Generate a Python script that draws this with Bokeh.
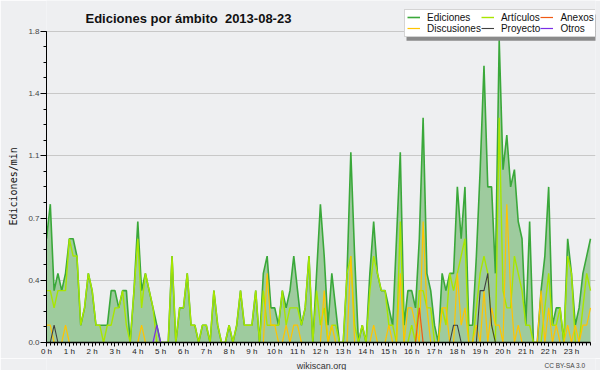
import math
from bokeh.plotting import figure
from bokeh.layouts import column
from bokeh.models import (Range1d, FixedTicker, CustomJSTickFormatter, Label, Legend,
                          LegendItem, Title, BoxAnnotation)
from bokeh.embed import file_html
from bokeh.resources import INLINE

# ---------------- data (10-minute slots, edits per minute) ----------------
title_text = "Ediciones por ámbito \u00a02013-08-23"
y_title = "Ediciones/min"
site_text = "wikiscan.org"
licence_text = "CC BY-SA 3.0"
hours = list(range(24))
slots_per_hour = 6

ediciones = [
    0.6, 0.8, 0.3, 0.4, 0.3, 0.4, 0.6, 0.6, 0.5, 0.1, 0.2, 0.4,   # 0h-1h50
    0.3, 0.1, 0.1, 0.1, 0.1, 0.3, 0.3, 0.2, 0.3, 0.3, 0.0, 0.3,   # 2h-3h50
    0.7, 0.3, 0.4, 0.3, 0.2, 0.1, 0.0, 0.0, 0.0, 0.5, 0.0, 0.2,   # 4h-5h50
    0.2, 0.4, 0.1, 0.1, 0.0, 0.1, 0.1, 0.0, 0.3, 0.1, 0.0, 0.0,   # 6h-7h50
    0.1, 0.0, 0.1, 0.3, 0.1, 0.1, 0.1, 0.3, 0.0, 0.4, 0.5, 0.2,   # 8h-9h50
    0.2, 0.1, 0.3, 0.2, 0.3, 0.5, 0.3, 0.1, 0.2, 0.5, 0.0, 0.4,   # 10h-11h50
    0.8, 0.5, 0.1, 0.4, 0.2, 0.0, 0.0, 0.4, 1.1, 0.5, 0.0, 0.1,   # 12h-13h50
    0.0, 0.4, 0.7, 0.4, 0.3, 0.3, 0.2, 0.1, 0.6, 1.1, 0.1, 0.3,   # 14h-15h50
    0.3, 0.2, 0.6, 1.3, 0.4, 0.3, 0.1, 0.0, 0.4, 0.3, 0.4, 0.4,   # 16h-17h50
    0.9, 0.6, 0.9, 0.1, 0.1, 0.5, 1.0, 1.6, 0.9, 0.9, 0.4, 1.75,  # 18h-19h50
    1.0, 1.2, 0.9, 1.0, 0.7, 0.6, 0.1, 0.7, 0.0, 0.0, 0.3, 0.5,   # 20h-21h50
    0.9, 0.1, 0.2, 0.2, 0.0, 0.6, 0.4, 0.1, 0.2, 0.4, 0.5, 0.6,   # 22h-23h50
]
articulos = [
    0.3, 0.3, 0.2, 0.3, 0.3, 0.3, 0.6, 0.5, 0.5, 0.1, 0.2, 0.4,
    0.3, 0.1, 0.1, 0.0, 0.1, 0.1, 0.2, 0.2, 0.3, 0.1, 0.0, 0.3,
    0.6, 0.2, 0.4, 0.3, 0.2, 0.0, 0.0, 0.0, 0.0, 0.5, 0.0, 0.2,
    0.2, 0.4, 0.1, 0.1, 0.0, 0.1, 0.1, 0.0, 0.3, 0.1, 0.0, 0.0,
    0.1, 0.0, 0.1, 0.3, 0.1, 0.1, 0.1, 0.3, 0.0, 0.3, 0.1, 0.1,
    0.1, 0.1, 0.3, 0.1, 0.2, 0.2, 0.2, 0.1, 0.2, 0.5, 0.0, 0.3,
    0.1, 0.2, 0.0, 0.1, 0.1, 0.0, 0.0, 0.4, 0.5, 0.1, 0.0, 0.1,
    0.0, 0.3, 0.5, 0.4, 0.3, 0.3, 0.1, 0.1, 0.0, 0.7, 0.0, 0.0,
    0.1, 0.0, 0.3, 0.3, 0.2, 0.2, 0.0, 0.0, 0.2, 0.1, 0.4, 0.3,
    0.4, 0.5, 0.6, 0.0, 0.0, 0.2, 0.4, 0.5, 0.4, 0.1, 0.0, 1.3,
    0.3, 0.2, 0.2, 0.5, 0.4, 0.3, 0.1, 0.1, 0.0, 0.0, 0.0, 0.2,
    0.4, 0.1, 0.1, 0.2, 0.0, 0.5, 0.4, 0.0, 0.0, 0.2, 0.4, 0.3,
]
discusiones = [
    0.1, 0.1, 0.0, 0.0, 0.0, 0.1, 0.0, 0.0, 0.0, 0.0, 0.0, 0.0,
    0.0, 0.0, 0.0, 0.0, 0.0, 0.0, 0.0, 0.0, 0.0, 0.0, 0.0, 0.0,
    0.0, 0.1, 0.0, 0.0, 0.0, 0.0, 0.0, 0.0, 0.0, 0.0, 0.0, 0.0,
    0.0, 0.0, 0.0, 0.0, 0.0, 0.0, 0.0, 0.0, 0.0, 0.0, 0.0, 0.0,
    0.0, 0.0, 0.0, 0.0, 0.0, 0.0, 0.0, 0.0, 0.0, 0.0, 0.4, 0.1,
    0.1, 0.0, 0.0, 0.1, 0.0, 0.1, 0.1, 0.0, 0.0, 0.0, 0.0, 0.0,
    0.0, 0.3, 0.0, 0.1, 0.0, 0.0, 0.0, 0.0, 0.5, 0.0, 0.0, 0.0,
    0.0, 0.0, 0.1, 0.0, 0.0, 0.0, 0.1, 0.0, 0.0, 0.4, 0.0, 0.2,
    0.2, 0.1, 0.0, 0.7, 0.2, 0.0, 0.0, 0.0, 0.2, 0.2, 0.0, 0.0,
    0.4, 0.1, 0.2, 0.0, 0.0, 0.1, 0.0, 0.3, 0.0, 0.2, 0.1, 0.1,
    0.0, 0.8, 0.3, 0.0, 0.1, 0.0, 0.0, 0.0, 0.0, 0.0, 0.3, 0.0,
    0.2, 0.0, 0.1, 0.0, 0.0, 0.1, 0.0, 0.1, 0.0, 0.1, 0.1, 0.2,
]
proyecto = [0.0] * 144
proyecto[2] = 0.1
proyecto[107] = 0.1
proyecto[108] = 0.1
proyecto[114] = 0.3
proyecto[115] = 0.3
proyecto[116] = 0.4
proyecto[117] = 0.1
anexos = [0.0] * 144
anexos[98] = 0.2
otros = [0.0] * 144
otros[29] = 0.1

times = [i / slots_per_hour for i in range(len(ediciones))]

# ---------------- layout constants (page pixels) ----------------
FONT = "Liberation Sans"
BG = "#eeeff1"
W = 600
H_MAIN, H_STRIP = 358, 12
F_LEFT, F_RIGHT_DATA, F_RIGHT = 46, 590, 595   # frame left, x of last slot, frame right
F_TOP_DATA, F_BOTTOM = 31, 344                 # y of axis max, frame bottom
x_end = (len(ediciones) - 1) / slots_per_hour
y_max = 1.8
px_per_x = (F_RIGHT_DATA - F_LEFT) / x_end
px_per_y = (F_BOTTOM - F_TOP_DATA) / y_max

def dx(px):
    return (px - F_LEFT) / px_per_x

def dy(py):
    return (F_BOTTOM - py) / px_per_y

p = figure(width=W, height=H_MAIN, output_backend="svg", toolbar_location=None,
           x_range=Range1d(0, dx(F_RIGHT)), y_range=Range1d(0, dy(0)),
           min_border_left=F_LEFT, min_border_right=W - F_RIGHT,
           min_border_top=0, min_border_bottom=H_MAIN - F_BOTTOM,
           background_fill_color=BG, border_fill_color=BG)
p.outline_line_color = None

r_fill = p.varea(x=times, y1=0, y2=ediciones, fill_color="#9ecb9e", fill_alpha=1.0)
r_ed = p.line(times, ediciones, line_color="#3aa83a", line_width=1.6)
r_art = p.line(times, articulos, line_color="#a8e600", line_width=1.4)
r_dis = p.line(times, discusiones, line_color="#ffc400", line_width=1.2)
r_pro = p.line(times, proyecto, line_color="#404040", line_width=1.1)
r_anx = p.line(times, anexos, line_color="#f05a14", line_width=1.2)
r_otr = p.line(times, otros, line_color="#7a2ee6", line_width=1.2)

# ---------------- axes ----------------
xa = p.xaxis[0]
xa.bounds = (0, x_end)
xa.ticker = FixedTicker(ticks=hours, minor_ticks=times)
xa.formatter = CustomJSTickFormatter(code="return tick.toFixed(0) + ' h'")
xa.major_label_text_font = FONT
xa.major_label_text_font_size = "8px"
xa.major_label_text_color = "#222222"
xa.major_label_standoff = 0
xa.major_tick_out = 4
xa.major_tick_in = 0
xa.minor_tick_out = 3
xa.minor_tick_in = 0
xa.axis_line_width = 1.5
xa.axis_line_color = "#000000"
xa.major_tick_line_color = "#000000"
xa.minor_tick_line_color = "#000000"

ya = p.yaxis[0]
ya.bounds = (0, y_max)
y_major = [y_max * k / 5 for k in range(6)]
y_minor = [y_max * k / 20 for k in range(21)]
ya.ticker = FixedTicker(ticks=y_major, minor_ticks=y_minor)
ya.formatter = CustomJSTickFormatter(code="return tick.toFixed(1)")
ya.major_label_text_font = FONT
ya.major_label_text_font_size = "8px"
ya.major_label_text_color = "#444444"
ya.major_label_standoff = 1
ya.major_tick_out = 6
ya.major_tick_in = 0
ya.minor_tick_out = 3
ya.minor_tick_in = 0
ya.axis_line_color = "#000000"
ya.major_tick_line_color = "#000000"
ya.minor_tick_line_color = "#000000"

p.xgrid.grid_line_color = None
p.ygrid.grid_line_color = "#c8c8c8"
p.ygrid.ticker = FixedTicker(ticks=y_major)

# y axis title (left side panel)
p.add_layout(Title(text=y_title, align="left", offset=F_BOTTOM - 227,
                   vertical_align="top",
                   text_font="DejaVu Sans Mono", text_font_size="10px",
                   text_font_style="normal", text_color="#111111", standoff=10), "left")

# ---------------- title ----------------
p.add_layout(Label(x=dx(85), y=dy(18.5), text=title_text, text_font=FONT,
                   text_font_style="bold", text_font_size="13px", text_color="#111111",
                   text_baseline="alphabetic", text_align="left"))

# ---------------- legend ----------------
LEG_L, LEG_B, LEG_W, LEG_H = 404, 38.5, 190, 26.5
p.add_layout(BoxAnnotation(left=dx(LEG_L + 2), right=dx(LEG_L + LEG_W + 2),
                           top=dy(LEG_B - LEG_H + 2), bottom=dy(LEG_B + 2),
                           fill_color="#8a8a8a", fill_alpha=1.0, line_color=None))
legend = Legend(items=[
    LegendItem(label="Ediciones", renderers=[r_ed]),
    LegendItem(label="Discusiones", renderers=[r_dis]),
    LegendItem(label="Artículos", renderers=[r_art]),
    LegendItem(label="Proyecto", renderers=[r_pro]),
    LegendItem(label="Anexos", renderers=[r_anx]),
    LegendItem(label="Otros", renderers=[r_otr]),
], location=(LEG_L - F_LEFT, F_BOTTOM - LEG_B), orientation="vertical", nrows=2)
legend.label_text_font = FONT
legend.label_text_font_size = "10px"
legend.label_text_color = "#111111"
legend.label_height = 10
legend.label_standoff = 7
legend.glyph_width = 13
legend.glyph_height = 10
legend.spacing = 0
legend.padding = 2
legend.margin = 0
legend.border_line_color = "#aaaaaa"
legend.border_line_width = 1
legend.background_fill_color = "#ffffff"
legend.background_fill_alpha = 1.0
p.add_layout(legend)

# ---------------- bottom strip: site and licence ----------------
s = figure(width=W, height=H_STRIP, output_backend="svg", toolbar_location=None,
           x_range=Range1d(0, W), y_range=Range1d(0, H_STRIP),
           min_border_left=0, min_border_right=0, min_border_top=0, min_border_bottom=0,
           background_fill_color=BG, border_fill_color=BG)
s.outline_line_color = None
s.axis.visible = False
s.grid.visible = False
s.add_layout(Label(x=300.5, y=5, text=site_text, text_font=FONT, text_font_size="9px",
                   text_color="#333333", text_align="center", text_baseline="alphabetic"))
s.add_layout(Label(x=589, y=5.5, text=licence_text, text_font=FONT, text_font_size="6.5px",
                   text_color="#444444", text_align="right", text_baseline="alphabetic"))

layout = column(p, s, spacing=0)
open("out.html", "w").write(file_html(layout, INLINE))
